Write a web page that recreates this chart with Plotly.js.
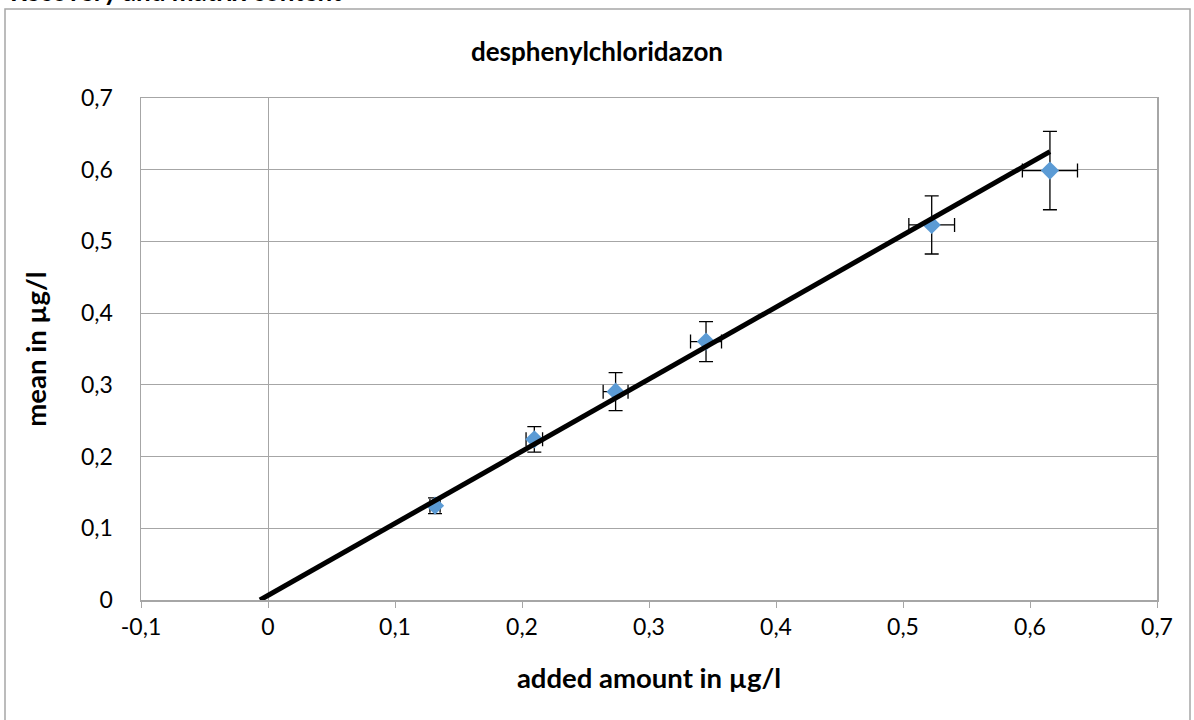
<!DOCTYPE html>
<html>
<head>
<meta charset="utf-8">
<script src="https://cdn.plot.ly/plotly-3.0.1.min.js"></script>
<style>html,body{margin:0;padding:0;background:#fff;}#chart{width:1194px;height:720px;}</style>
</head>
<body>
<div id="chart"></div>
<script>
// Measured data (added amount vs. mean, with standard deviations)
const addedAmount = [0.1315, 0.2097, 0.2737, 0.3449, 0.5226, 0.6157];
const meanValue   = [0.1315, 0.2240, 0.2905, 0.3603, 0.5230, 0.5988];
const errX        = [0.0040, 0.0065, 0.0098, 0.0122, 0.0180, 0.0217];
const errY        = [0.0110, 0.0177, 0.0265, 0.0280, 0.0405, 0.0546];
// Linear trend line endpoints
const trendX = [-0.0063, 0.6157];
const trendY = [0.0, 0.6253];
// Tick labels
const xTickVals = [-0.1, 0, 0.1, 0.2, 0.3, 0.4, 0.5, 0.6, 0.7];
const xTickText = ["-0,1", "0", "0,1", "0,2", "0,3", "0,4", "0,5", "0,6", "0,7"];
const yTickVals = [0, 0.1, 0.2, 0.3, 0.4, 0.5, 0.6, 0.7];
const yTickText = ["0", "0,1", "0,2", "0,3", "0,4", "0,5", "0,6", "0,7"];

const font = "Lato, 'Open Sans', sans-serif";

const traces = [
  {
    x: addedAmount, y: meanValue, type: 'scatter', mode: 'markers',
    marker: {symbol: 'diamond', size: 14, color: '#5B9BD5'},
    error_y: {type: 'data', array: errY, visible: true, color: '#000', thickness: 1.3, width: 7},
    error_x: {type: 'data', array: errX, visible: true, color: '#000', thickness: 1.3, width: 7},
    showlegend: false, hoverinfo: 'x+y'
  },
  {
    x: trendX, y: trendY, type: 'scatter', mode: 'lines',
    line: {color: '#000', width: 5}, showlegend: false, hoverinfo: 'skip'
  }
];

const layout = {
  width: 1194, height: 720,
  margin: {l: 141, r: 37, t: 98, b: 120},
  paper_bgcolor: '#fff', plot_bgcolor: '#fff',
  font: {family: font, size: 23, color: '#000'},
  separators: ', ',
  title: {text: '<b>desphenylchloridazon</b>', font: {family: font, size: 26, color: '#000'}, x: 0.5, xanchor: 'center', y: 1 - 52/720, yanchor: 'middle'},
  xaxis: {
    range: [-0.1, 0.7], tickvals: xTickVals, ticktext: xTickText,
    showgrid: false, zeroline: true, zerolinecolor: '#A6A6A6', zerolinewidth: 1,
    showline: true, linecolor: '#A6A6A6', linewidth: 1.5, mirror: true,
    ticks: 'outside', ticklen: 6, tickcolor: '#A6A6A6', tickwidth: 1,
    tickfont: {family: font, size: 23, color: '#000'},
    title: {text: '<b>added amount in µg/l</b>', font: {family: font, size: 27.5, color: '#000'}, standoff: 29},
    fixedrange: true
  },
  yaxis: {
    range: [0, 0.7], tickvals: yTickVals, ticktext: yTickText,
    showgrid: true, gridcolor: '#A6A6A6', gridwidth: 1, zeroline: false,
    showline: true, linecolor: '#A6A6A6', linewidth: 1.5, mirror: true,
    ticks: '', ticklabelstandoff: 22,
    tickfont: {family: font, size: 23, color: '#000'},
    title: {text: '<b>mean in µg/l</b>', font: {family: font, size: 27.5, color: '#000'}, standoff: 26},
    fixedrange: true
  },
  shapes: [
    {type: 'rect', xref: 'paper', yref: 'paper',
     x0: (5 - 141) / 1016, x1: (1190 - 141) / 1016,
     y0: -1, y1: 1 + (98 - 9) / 502,
     line: {color: '#A6A6A6', width: 1.5}, fillcolor: 'rgba(0,0,0,0)', layer: 'below'}
  ],
  annotations: [
    {text: '<b>Recovery and matrix content</b>', xref: 'paper', yref: 'paper',
     x: (8 - 141) / 1016, xanchor: 'left',
     y: 1 + (98 - 9) / 502, yanchor: 'bottom', showarrow: false,
     font: {family: font, size: 26, color: '#000'}}
  ]
};

Plotly.newPlot('chart', traces, layout, {displayModeBar: false, staticPlot: true});
</script>
</body>
</html>
